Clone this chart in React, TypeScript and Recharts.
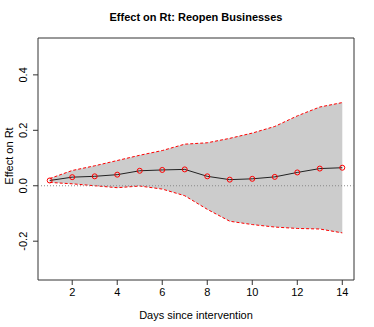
import { ComposedChart, Area, Line, XAxis, YAxis, ReferenceLine, ReferenceArea } from 'recharts';

const days = [1, 2, 3, 4, 5, 6, 7, 8, 9, 10, 11, 12, 13, 14];
const effect = [0.019, 0.031, 0.034, 0.040, 0.054, 0.057, 0.059, 0.034, 0.022, 0.025, 0.032, 0.048, 0.062, 0.065];
const upper = [0.026, 0.055, 0.072, 0.091, 0.110, 0.127, 0.150, 0.155, 0.171, 0.190, 0.214, 0.252, 0.284, 0.300];
const lower = [0.012, 0.007, 0.0, -0.007, -0.001, -0.012, -0.036, -0.085, -0.128, -0.140, -0.149, -0.154, -0.156, -0.170];
const xTicks = [2, 4, 6, 8, 10, 12, 14];
const yTicks = [-0.2, 0, 0.2, 0.4];

const X_MIN = 0.48;
const X_MAX = 14.52;
const Y_MIN = -0.34;
const Y_MAX = 0.533;

const font = '"Liberation Sans", Arial, Helvetica, sans-serif';

function YTick({ x, y, payload }: any) {
	const v = payload.value as number;
	const label = v === 0 ? '0.0' : v.toFixed(1);
	return (
		<text x={x - 4} y={y} transform={`rotate(-90, ${x - 4}, ${y})`} textAnchor="middle" fontSize={11} fill="#000" fontFamily={font}>
			{label}
		</text>
	);
}

function XTick({ x, y, payload }: any) {
	return (
		<text x={x} y={y + 9} textAnchor="middle" fontSize={11} fill="#000" fontFamily={font}>
			{payload.value}
		</text>
	);
}

function YLabel({ viewBox }: any) {
	const cy = viewBox.y + viewBox.height / 2 - 3;
	return (
		<text x={13} y={cy} transform={`rotate(-90, 13, ${cy})`} textAnchor="middle" fontSize={11} fill="#000" fontFamily={font}>
			Effect on Rt
		</text>
	);
}

export default function App() {
	const data = days.map((d, i) => ({
		day: d,
		effect: effect[i],
		upper: upper[i],
		lower: lower[i],
		band: [lower[i], upper[i]],
	}));

	return (
		<div style={styles.wrap}>
			<div style={styles.title}>Effect on Rt: Reopen Businesses</div>
			<ComposedChart width={374} height={327} data={data} margin={{ top: 38, right: 20, bottom: 0, left: 0 }}>
				<XAxis
					dataKey="day"
					type="number"
					domain={[X_MIN, X_MAX]}
					ticks={xTicks}
					tick={<XTick />}
					tickSize={5}
					height={47}
					axisLine={false}
					tickLine={{ stroke: '#333' }}
					label={{ value: 'Days since intervention', position: 'insideBottom', offset: 8, fontSize: 11, fill: '#000', fontFamily: font }}
				/>
				<YAxis
					type="number"
					domain={[Y_MIN, Y_MAX]}
					ticks={yTicks}
					tick={<YTick />}
					tickSize={5}
					width={38}
					axisLine={false}
					tickLine={{ stroke: '#333' }}
					label={<YLabel />}
				/>
				<Area dataKey="band" type="linear" fill="#cccccc" fillOpacity={1} stroke="none" isAnimationActive={false} />
				<Line dataKey="upper" type="linear" stroke="#ff0000" strokeWidth={1} strokeDasharray="3 2" dot={false} isAnimationActive={false} />
				<Line dataKey="lower" type="linear" stroke="#ff0000" strokeWidth={1} strokeDasharray="3 2" dot={false} isAnimationActive={false} />
				<ReferenceLine y={0} stroke="#888" strokeDasharray="1 2" />
				<Line
					dataKey="effect"
					type="linear"
					stroke="#222"
					strokeWidth={1}
					dot={{ r: 2.5, stroke: '#ff0000', strokeWidth: 1, fill: 'none' }}
					isAnimationActive={false}
				/>
				<ReferenceArea x1={X_MIN} x2={X_MAX} y1={Y_MIN} y2={Y_MAX} fill="none" stroke="#333" strokeWidth={1} ifOverflow="visible" />
			</ComposedChart>
		</div>
	);
}

const styles: Record<string, React.CSSProperties> = {
	wrap: {
		position: 'absolute',
		left: 0,
		top: 0,
		width: 374,
		height: 327,
		background: '#fff',
	},
	title: {
		position: 'absolute',
		top: 11,
		left: 0,
		width: 392,
		textAlign: 'center',
		fontFamily: font,
		fontWeight: 'bold',
		fontSize: 11,
		color: '#000',
	},
};
